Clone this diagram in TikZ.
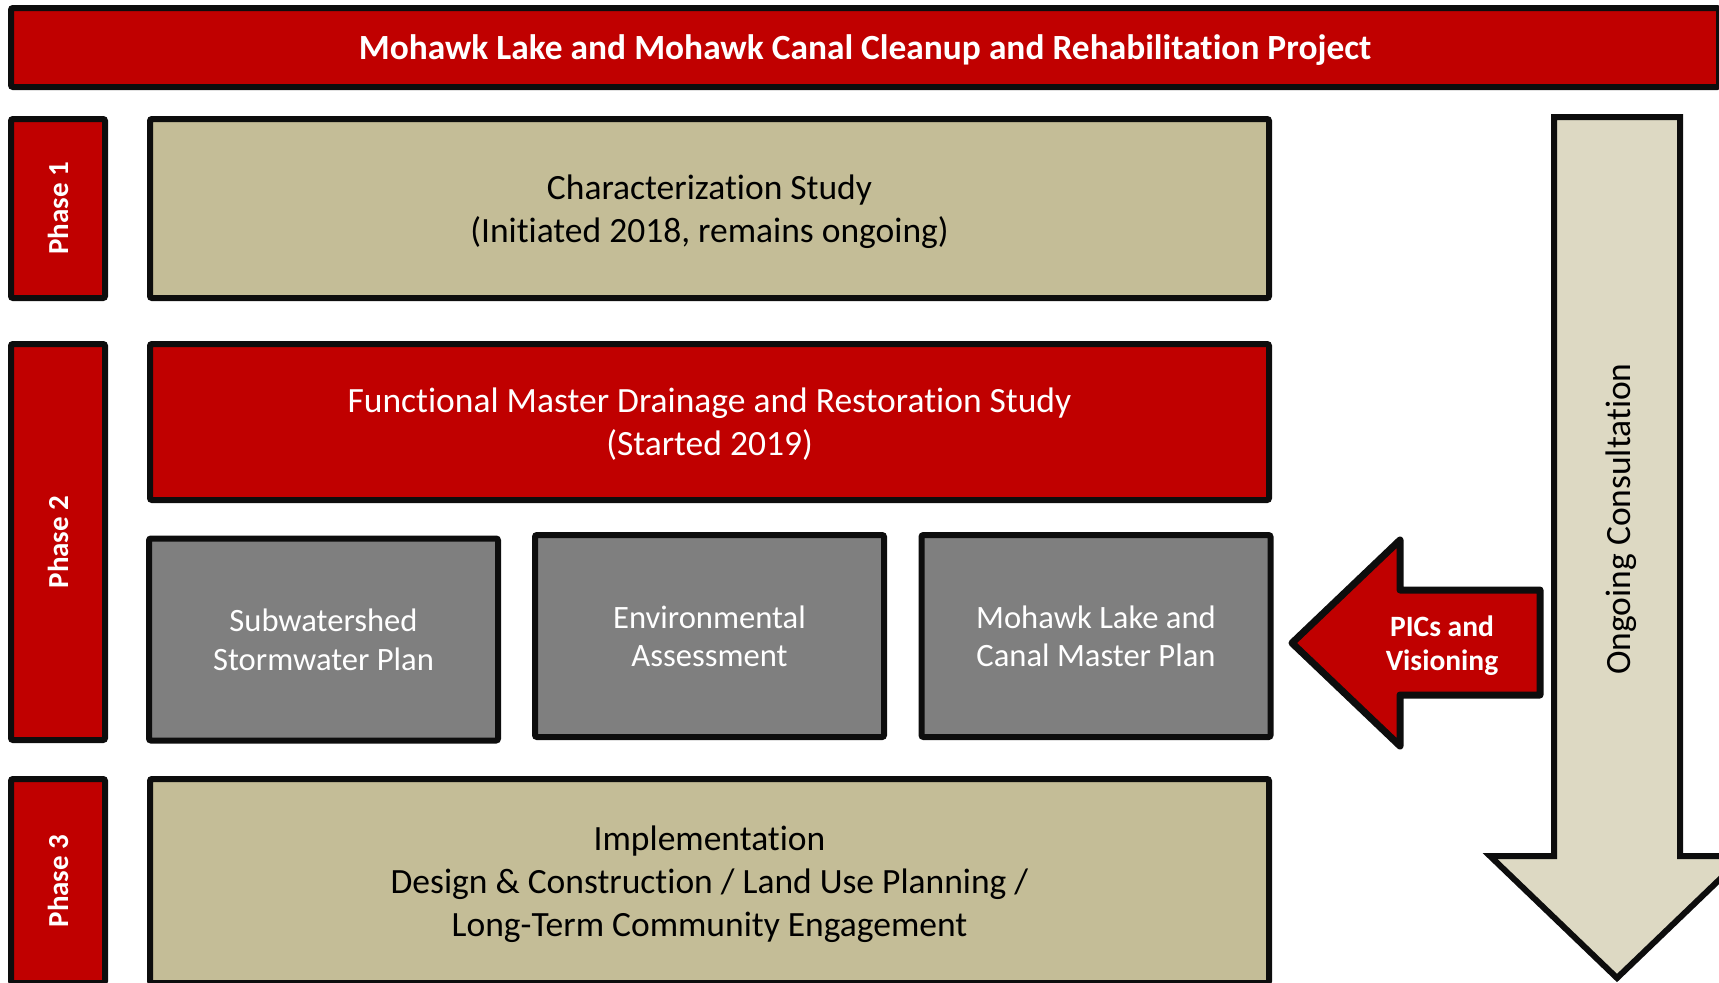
\documentclass[tikz,border=0pt]{standalone}
\usepackage{fontspec}
\setmainfont[Ligatures=NoCommon]{Carlito}
\definecolor{projred}{HTML}{C00000}
\definecolor{projtan}{HTML}{C4BD97}
\definecolor{projsand}{HTML}{DDD9C3}
\definecolor{projgrey}{HTML}{7F7F7F}
\definecolor{projedge}{HTML}{0D0D0D}

\begin{document}
\begin{tikzpicture}[x=0.5pt,y=-0.5pt,
    box/.style={draw=projedge,line width=3pt,rounded corners=1pt,inner sep=0pt,align=center,text depth=0pt},
    redbox/.style={box,fill=projred,text=white},
    tanbox/.style={box,fill=projtan,text=black,minimum width=559.5pt},
    greybox/.style={box,fill=projgrey,text=white,minimum width=174.5pt,minimum height=101pt,
        font=\fontsize{16.3}{19.2}\selectfont},
    phasebox/.style={redbox,rotate=90,minimum height=47pt,font=\bfseries\fontsize{14.5}{17}\selectfont},
    bigtext/.style={font=\fontsize{17.75}{21.4}\selectfont}]

    \useasboundingbox (0,0) rectangle (1719,982);

    \node[redbox,minimum width=854pt,minimum height=39.5pt,font=\bfseries\fontsize{17.7}{21}\selectfont]
        (title) at (865,47.5) {Mohawk Lake and Mohawk Canal Cleanup and Rehabilitation Project};

    \node[phasebox,minimum width=89.5pt] (P1) at (58,208.5) {Phase 1};
    \node[phasebox,minimum width=198pt] (P2) at (58,542) {Phase 2};
    \node[phasebox,minimum width=102pt] (P3) at (58,881) {Phase 3};

    \node[tanbox,bigtext,minimum height=89.5pt] (CS) at (709.5,208.5)
        {Characterization Study\\(Initiated 2018, remains ongoing)};
    \node[redbox,bigtext,minimum width=559.5pt,minimum height=78pt] (FMD) at (709.5,422)
        {Functional Master Drainage and Restoration Study\\(Started 2019)};

    \node[greybox] (SSP) at (323.5,639.5) {Subwatershed\\Stormwater Plan};
    \node[greybox] (EA) at (709.5,636) {Environmental\\Assessment};
    \node[greybox] (MLC) at (1096,636) {Mohawk Lake and\\Canal Master Plan};

    \node[tanbox,bigtext,minimum height=102pt] (IMP) at (709.5,881)
        {Implementation\\Design \& Construction / Land Use Planning /\\Long-Term Community Engagement};

    \draw[projedge,fill=projsand,line width=3pt,miter limit=10]
        (1554,117) -- (1680,117) -- (1680,856) -- (1744,856) -- (1617,978)
        -- (1490,856) -- (1554,856) -- cycle;
    \node[rotate=90,bigtext,text depth=0pt] (OC) at (1618,519) {Ongoing Consultation};

    \draw[projedge,fill=projred,line width=3.5pt,line join=round]
        (1292,643) -- (1400,540) -- (1400,590) -- (1540,590) -- (1540,695)
        -- (1400,695) -- (1400,746) -- cycle;
    \node[align=center,text=white,text depth=0pt,font=\bfseries\fontsize{14.75}{17}\selectfont] (PIC) at (1442,643)
        {PICs and\\Visioning};

\end{tikzpicture}
\end{document}
